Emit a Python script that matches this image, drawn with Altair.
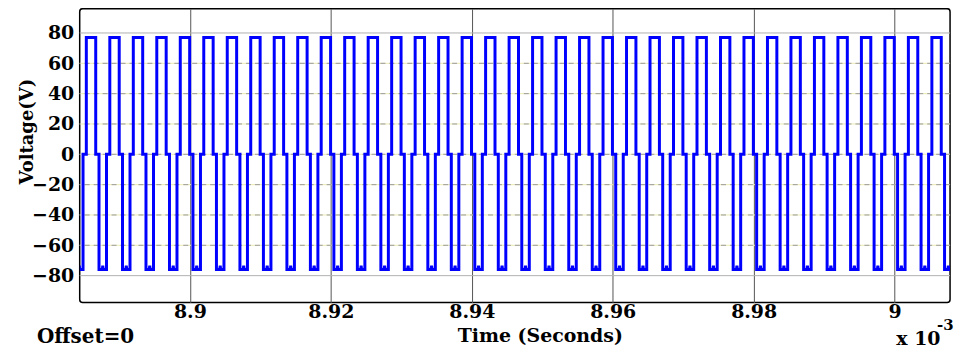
import altair as alt
import pandas as pd

# ---- data ----
time_ticks = [8.9, 8.92, 8.94, 8.96, 8.98, 9.0]          # x10^-3 s
volt_ticks = [-80, -60, -40, -20, 0, 20, 40, 60, 80]
x_domain = [8.88436, 9.00787]
y_domain = [-97.7, 96.0]

period = 0.003333          # one switching cycle (x10^-3 s)
first_rise = 8.8853        # first 0 -> +V edge
cycle_start = -1           # one partial cycle before the first rise
cycle_count = 38
# one cycle of the three-level waveform (phase as fraction of period, volts)
cycle_phase = [0.00, 0.00, 0.40, 0.40, 0.54, 0.54, 0.68, 0.70, 0.72, 0.86, 0.86]
cycle_volts = [0.0, 77.0, 77.0, 0.0, 0.0, -76.0, -76.0, -73.5, -76.0, -76.0, 0.0]

FONT = "DejaVu Serif"

rows = []
k = 0
for c in range(cycle_start, cycle_start + cycle_count):
    t0 = first_rise + c * period
    for ph, v in zip(cycle_phase, cycle_volts):
        rows.append({"t": t0 + ph * period, "v": v, "i": k})
        k += 1
wave = pd.DataFrame(rows)

xs = alt.Scale(domain=x_domain, nice=False, zero=False)
ys = alt.Scale(domain=y_domain, nice=False, zero=False)

y_axis = alt.Axis(
    values=volt_ticks, grid=False, tickSize=0, domain=False,
    labelPadding=6, labelFont=FONT, labelFontSize=19,
    labelFontWeight="bold", labelColor="black", labelFlush=False,
    title="Voltage(V)", titleX=-43, titleY=123, titleAngle=270,
    titleBaseline="bottom", titleAlign="center",
    titleFont=FONT, titleFontSize=18, titleFontWeight="bold",
    titleColor="black",
)

x_axis = alt.Axis(
    values=time_ticks,
    labelExpr="format(datum.value, '.2~f')",
    grid=True, gridColor="#555555", gridWidth=1,
    tickSize=0, domain=False, labelPadding=0,
    labelFont=FONT, labelFontSize=19, labelFontWeight="bold",
    labelColor="black", labelFlush=False,
    title="Time (Seconds)", titleX=462, titleY=39,
    titleBaseline="alphabetic", titleAlign="center",
    titleFont=FONT, titleFontSize=19, titleFontWeight="bold",
    titleColor="black",
)

grid_df = pd.DataFrame({"v": volt_ticks})
grid_df["solid"] = grid_df["v"].abs() == 80

yellow = alt.Chart(grid_df).transform_filter("!datum.solid").mark_rule(
    color="#ecebb4", strokeWidth=1
).encode(y=alt.Y("v:Q", scale=ys, axis=y_axis))

dashed = alt.Chart(grid_df).transform_filter("!datum.solid").mark_rule(
    color="#9a9a9a", strokeWidth=1, strokeDash=[5, 4]
).encode(y=alt.Y("v:Q", scale=ys, axis=y_axis))

solid = alt.Chart(grid_df).transform_filter("datum.solid").mark_rule(
    color="#b0b0b0", strokeWidth=1
).encode(y=alt.Y("v:Q", scale=ys, axis=y_axis))

line = alt.Chart(wave).mark_line(
    color="#0000ff", strokeWidth=3, clip=True, strokeJoin="miter"
).encode(
    x=alt.X("t:Q", scale=xs, axis=x_axis),
    y=alt.Y("v:Q", scale=ys, axis=y_axis),
    order="i:Q",
)

offset_lbl = alt.Chart(pd.DataFrame({"s": ["Offset=0"]})).mark_text(
    font=FONT, fontSize=20, fontWeight="bold", color="black",
    align="left", baseline="alphabetic"
).encode(x=alt.value(-43), y=alt.value(336), text="s:N")

mult_lbl = alt.Chart(pd.DataFrame({"s": ["x 10"]})).mark_text(
    font=FONT, fontSize=19, fontWeight="bold", color="black",
    align="left", baseline="alphabetic"
).encode(x=alt.value(820), y=alt.value(338), text="s:N")

exp_lbl = alt.Chart(pd.DataFrame({"s": ["-3"]})).mark_text(
    font=FONT, fontSize=15, fontWeight="bold", color="black",
    align="left", baseline="alphabetic"
).encode(x=alt.value(861), y=alt.value(323), text="s:N")

chart = alt.layer(yellow, dashed, solid, line, offset_lbl, mult_lbl, exp_lbl).properties(
    width=874, height=295,
    autosize=alt.AutoSizeParams(type="none"),
    padding={"left": 72, "top": 0, "right": 15, "bottom": 48},
    background="white",
).configure_view(
    stroke="black", strokeWidth=1.5, cornerRadius=3
)

chart.save("out.html", embed_options={"renderer": "svg", "actions": False})
